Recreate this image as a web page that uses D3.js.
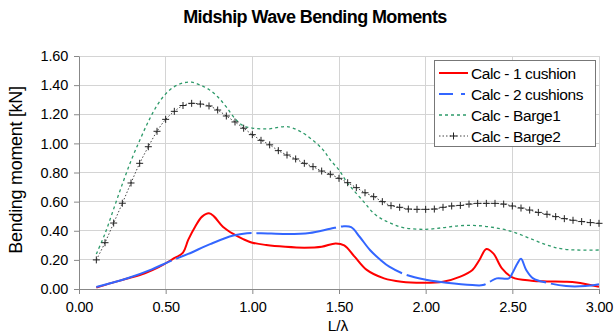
<!DOCTYPE html>
<html><head><meta charset="utf-8">
<script src="https://cdn.jsdelivr.net/npm/d3@7/dist/d3.min.js"></script>
<style>body{margin:0;background:#fff;} svg{display:block;font-family:"Liberation Sans",Arial,sans-serif;}</style>
</head><body>
<svg id="c" width="615" height="334"></svg>
<script>
const title = "Midship Wave Bending Moments";
const xLabel = "L/\u03bb";
const yLabel = "Bending moment [kN]";
const xTicks = [0, 0.5, 1.0, 1.5, 2.0, 2.5, 3.0];
const yTicks = [0, 0.2, 0.4, 0.6, 0.8, 1.0, 1.2, 1.4, 1.6];
const seriesNames = ["Calc - 1 cushion", "Calc - 2 cushions", "Calc - Barge1", "Calc - Barge2"];

const cushion1X = [0.10,0.19,0.29,0.38,0.46,0.54,0.60,0.63,0.67,0.71,0.75,0.78,0.83,0.89,0.95,1.00,1.08,1.19,1.30,1.40,1.48,1.53,1.59,1.66,1.76,1.86,1.98,2.10,2.20,2.27,2.31,2.35,2.39,2.44,2.50,2.61,2.70,2.80,2.87,3.00];
const cushion1Y = [0.010,0.042,0.075,0.108,0.150,0.205,0.250,0.337,0.428,0.497,0.520,0.497,0.428,0.378,0.341,0.318,0.302,0.290,0.284,0.290,0.313,0.300,0.222,0.131,0.073,0.050,0.043,0.050,0.085,0.131,0.199,0.275,0.245,0.142,0.080,0.057,0.052,0.050,0.045,0.016];

const cushion2X = [0.10,0.28,0.42,0.52,0.63,0.76,0.89,0.97,1.05,1.20,1.33,1.45,1.52,1.57,1.62,1.68,1.74,1.79,1.89,2.01,2.12,2.27,2.33,2.37,2.41,2.48,2.50,2.53,2.55,2.58,2.62,2.70,2.81,2.92,3.00];
const cushion2Y = [0.014,0.074,0.135,0.188,0.241,0.310,0.367,0.383,0.383,0.378,0.385,0.414,0.430,0.425,0.357,0.266,0.199,0.153,0.096,0.062,0.043,0.027,0.027,0.050,0.073,0.073,0.108,0.177,0.207,0.131,0.073,0.043,0.020,0.020,0.032];

const barge1X = [0.10,0.15,0.20,0.25,0.30,0.35,0.40,0.45,0.50,0.55,0.60,0.65,0.70,0.75,0.80,0.85,0.90,0.95,1.00,1.05,1.10,1.15,1.20,1.28,1.40,1.45,1.50,1.55,1.60,1.65,1.70,1.75,1.80,1.87,2.00,2.10,2.20,2.30,2.40,2.50,2.60,2.70,2.80,3.00];
const barge1Y = [0.240,0.380,0.550,0.720,0.880,1.020,1.150,1.260,1.340,1.390,1.415,1.420,1.400,1.370,1.320,1.250,1.170,1.120,1.105,1.100,1.100,1.110,1.115,1.080,0.966,0.886,0.817,0.726,0.657,0.589,0.520,0.479,0.451,0.421,0.410,0.421,0.435,0.435,0.421,0.394,0.348,0.302,0.273,0.268];

const barge2X = [0.10,0.15,0.20,0.25,0.30,0.35,0.40,0.45,0.50,0.55,0.60,0.65,0.70,0.75,0.80,0.85,0.90,0.95,1.00,1.05,1.10,1.15,1.20,1.25,1.30,1.35,1.40,1.45,1.50,1.55,1.60,1.65,1.70,1.75,1.80,1.85,1.90,1.95,2.00,2.05,2.10,2.15,2.20,2.25,2.30,2.35,2.40,2.45,2.50,2.55,2.60,2.65,2.70,2.75,2.80,2.85,2.90,2.95,3.00];
const barge2Y = [0.200,0.318,0.453,0.589,0.728,0.863,0.977,1.083,1.165,1.220,1.260,1.275,1.270,1.257,1.229,1.188,1.147,1.104,1.060,1.021,0.990,0.950,0.920,0.893,0.863,0.840,0.810,0.788,0.760,0.730,0.696,0.661,0.634,0.600,0.572,0.561,0.549,0.547,0.547,0.549,0.561,0.570,0.574,0.583,0.588,0.588,0.588,0.583,0.570,0.556,0.542,0.526,0.513,0.497,0.483,0.472,0.463,0.456,0.451];

const svg = d3.select("#c");
const L = 79, R = 599, T = 56, B = 289;
const x = d3.scaleLinear().domain([0, 3]).range([L, R]);
const y = d3.scaleLinear().domain([0, 1.6]).range([B, T]);

// gridlines
svg.append("g").selectAll("line").data(yTicks.slice(1)).join("line")
  .attr("x1", L).attr("x2", R).attr("y1", d => y(d)).attr("y2", d => y(d))
  .attr("stroke", "#d4d4d4").attr("stroke-width", 1).attr("shape-rendering", "crispEdges");
svg.append("g").selectAll("line").data(xTicks.slice(1)).join("line")
  .attr("y1", T).attr("y2", B).attr("x1", d => x(d)).attr("x2", d => x(d))
  .attr("stroke", "#d4d4d4").attr("stroke-width", 1).attr("shape-rendering", "crispEdges");

// axes
const yAxis = svg.append("g").attr("transform", `translate(${L},0)`)
  .call(d3.axisLeft(y).tickValues(yTicks).tickFormat(d3.format(".2f")).tickSize(5).tickSizeOuter(0));
const xAxis = svg.append("g").attr("transform", `translate(0,${B})`)
  .call(d3.axisBottom(x).tickValues(xTicks).tickFormat(d3.format(".2f")).tickSize(5).tickSizeOuter(0));
[yAxis, xAxis].forEach(a => {
  a.select(".domain").attr("stroke", "#888");
  a.selectAll(".tick line").attr("stroke", "#888");
  a.selectAll("text").attr("font-size", 14.5).attr("fill", "#000").attr("font-family", "Liberation Sans, Arial, sans-serif").attr("letter-spacing", -0.2);
});
yAxis.selectAll("text").attr("x", -11);
xAxis.selectAll("text").attr("y", 13);

// lines
const line = d3.line().x(d => x(d[0])).y(d => y(d[1])).curve(d3.curveCatmullRom.alpha(0.5));
const zip = (a, b) => a.map((v, i) => [v, b[i]]);
const d1 = zip(cushion1X, cushion1Y), d2 = zip(cushion2X, cushion2Y);
const d3b = zip(barge1X, barge1Y), d4 = zip(barge2X, barge2Y);

svg.append("path").datum(d3b).attr("d", line).attr("fill", "none")
  .attr("stroke", "#2e9a6a").attr("stroke-width", 1.3).attr("stroke-dasharray", "3,3");
svg.append("path").datum(d4).attr("d", line).attr("fill", "none")
  .attr("stroke", "#444").attr("stroke-width", 1).attr("stroke-dasharray", "1.5,2");
svg.append("g").selectAll("path").data(d4).join("path")
  .attr("d", d => `M${x(d[0]) - 3.5},${y(d[1])}h7M${x(d[0])},${y(d[1]) - 3.5}v7`)
  .attr("stroke", "#222").attr("stroke-width", 1);
svg.append("path").datum(d1).attr("d", line).attr("fill", "none")
  .attr("stroke", "#ff0000").attr("stroke-width", 2);
svg.append("path").datum(d2).attr("d", line).attr("fill", "none")
  .attr("stroke", "#3366ff").attr("stroke-width", 2).attr("stroke-dasharray", "80,5");

// title & labels
svg.append("text").attr("x", 315).attr("y", 23).attr("text-anchor", "middle")
  .attr("font-size", 18).attr("font-weight", "bold").attr("letter-spacing", -0.6).text(title);
svg.append("text").attr("transform", "translate(22,170) rotate(-90)").attr("text-anchor", "middle")
  .attr("font-size", 18).attr("letter-spacing", -0.3).text(yLabel);
svg.append("text").attr("x", 338).attr("y", 330.5).attr("text-anchor", "middle")
  .attr("font-size", 15.5).text(xLabel);

// legend
const lg = svg.append("g");
lg.append("rect").attr("x", 434.5).attr("y", 60.5).attr("width", 161).attr("height", 86)
  .attr("fill", "#fff").attr("stroke", "#777");
const styles = [
  {stroke: "#ff0000", w: 2, dash: null},
  {stroke: "#3366ff", w: 2, dash: "14,8,4,20"},
  {stroke: "#2e9a6a", w: 1.3, dash: "3,3"},
  {stroke: "#444", w: 1, dash: "1.5,2"}
];
seriesNames.forEach((n, i) => {
  const yy = 73 + i * 21;
  lg.append("line").attr("x1", 439).attr("x2", 468).attr("y1", yy).attr("y2", yy)
    .attr("stroke", styles[i].stroke).attr("stroke-width", styles[i].w)
    .attr("stroke-dasharray", styles[i].dash);
  if (i === 3) lg.append("path").attr("d", `M${453.5 - 3.5},${yy}h7M${453.5},${yy - 3.5}v7`).attr("stroke", "#222");
  lg.append("text").attr("x", 471).attr("y", yy + 5.5).attr("font-size", 15.5).attr("letter-spacing", -0.4).text(n);
});
</script>
</body></html>
